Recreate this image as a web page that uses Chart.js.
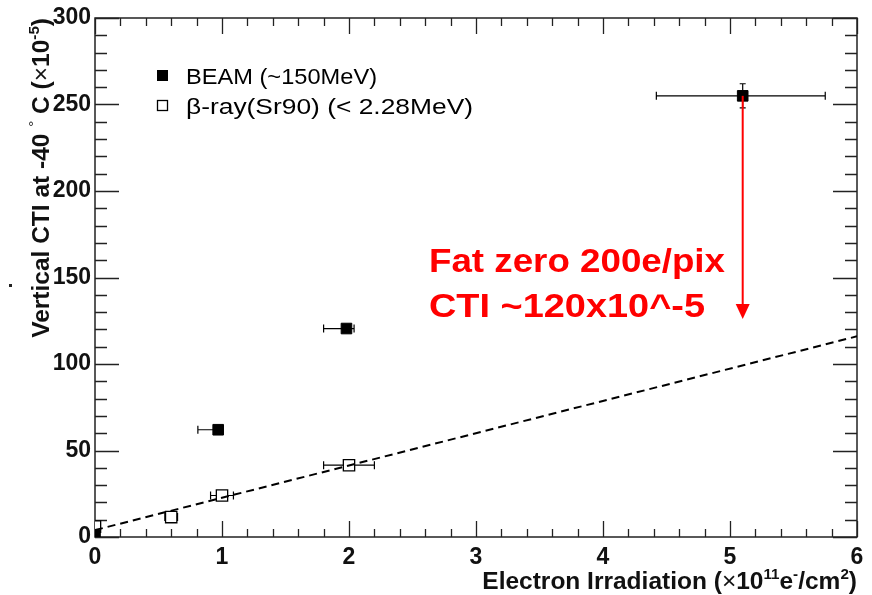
<!DOCTYPE html>
<html>
<head>
<meta charset="utf-8">
<script src="https://cdn.jsdelivr.net/npm/chart.js@4/dist/chart.umd.min.js"></script>
<style>
  html, body { margin: 0; padding: 0; background: #fff; }
  #wrap { width: 872px; height: 595px; position: relative; }
</style>
</head>
<body>
<div id="wrap"><canvas id="ctiChart"></canvas></div>
<script>
// Vertical CTI vs electron irradiation
const beamX = [0, 0.97, 1.98, 5.1];
const beamY = [1, 62, 120.5, 255];
const beamXErrLo = [0, 0.16, 0.18, 0.68];
const beamXErrHi = [0, 0, 0.06, 0.65];
const beamYErr = [0, 0, 0, 7];

const betaX = [0, 0.6, 1.0, 2.0];
const betaY = [6, 11.5, 24, 41.5];
const betaXErr = [0, 0.05, 0.09, 0.2];

const fitX = [0, 6];
const fitY = [4, 116];

// fat zero annotation: arrow from the beam point down to the reduced CTI
const arrowX = 5.1;
const arrowFrom = 255;
const arrowTo = 126;
const noteLines = ["Fat zero 200e/pix", "CTI ~120x10^-5"];

const xTicks = [0, 1, 2, 3, 4, 5, 6];
const yTicks = [0, 50, 100, 150, 200, 250, 300];

const legendItems = [
  { label: "BEAM (~150MeV)", filled: true },
  { label: "\u03B2-ray(Sr90) (< 2.28MeV)", filled: false }
];

const FONT = "'Liberation Sans', Arial, sans-serif";

function toPts(xs, ys) {
  return xs.map((x, i) => ({ x: x, y: ys[i] }));
}

// text squeezed or widened to a given width (the original fonts run wide)
function fillWide(ctx, text, x, y, width) {
  const w = ctx.measureText(text).width;
  ctx.save();
  ctx.translate(x, y);
  ctx.scale(width / w, 1);
  ctx.fillText(text, 0, 0);
  ctx.restore();
}

// draw text made of pieces, some raised as superscripts
function richWidth(ctx, parts, size) {
  let w = 0;
  parts.forEach(p => {
    ctx.font = (p.bold === false ? "" : "bold ") + (p.sup ? size * 0.62 : size) + "px " + FONT;
    w += ctx.measureText(p.t).width;
  });
  return w;
}
function drawRich(ctx, parts, x, y, size) {
  let cx = x;
  parts.forEach(p => {
    const s = p.sup ? size * 0.62 : size;
    ctx.font = (p.bold === false ? "" : "bold ") + s + "px " + FONT;
    ctx.fillText(p.t, cx, p.sup ? y - size * 0.42 : y);
    cx += ctx.measureText(p.t).width;
  });
}

const rootStyle = {
  id: "rootStyle",
  beforeDatasetsDraw(chart) {
    const ctx = chart.ctx;
    const xs = chart.scales.x, ys = chart.scales.y;
    const a = chart.chartArea;
    ctx.save();
    ctx.strokeStyle = "#222";
    ctx.lineWidth = 1.5;
    ctx.strokeRect(a.left, a.top, a.right - a.left, a.bottom - a.top);

    // tick marks inside the frame on all four sides
    ctx.lineWidth = 1.3;
    ctx.beginPath();
    for (let v = 0; v <= 300.01; v += 10) {
      const py = Math.round(ys.getPixelForValue(v)) + 0.5;
      const len = (Math.round(v) % 50 === 0) ? 24 : 12;
      ctx.moveTo(a.left, py); ctx.lineTo(a.left + len, py);
      ctx.moveTo(a.right, py); ctx.lineTo(a.right - len, py);
    }
    for (let i = 0; i <= 30; i++) {
      const v = i * 0.2;
      const px = Math.round(xs.getPixelForValue(v)) + 0.5;
      const len = (i % 5 === 0) ? 16 : 8;
      ctx.moveTo(px, a.bottom); ctx.lineTo(px, a.bottom - len);
      ctx.moveTo(px, a.top); ctx.lineTo(px, a.top + len);
    }
    ctx.stroke();

    // horizontal / vertical error bars with end caps
    ctx.strokeStyle = "#000";
    ctx.lineWidth = 1.2;
    const bars = (xv, yv, lo, hi, ye) => {
      xv.forEach((x, i) => {
        const py = ys.getPixelForValue(yv[i]);
        const l = lo[i], h = hi[i];
        if (l > 0 || h > 0) {
          const x1 = xs.getPixelForValue(x - l), x2 = xs.getPixelForValue(x + h);
          ctx.beginPath();
          ctx.moveTo(x1, py); ctx.lineTo(x2, py);
          if (l > 0) { ctx.moveTo(x1, py - 4); ctx.lineTo(x1, py + 4); }
          if (h > 0) { ctx.moveTo(x2, py - 4); ctx.lineTo(x2, py + 4); }
          ctx.stroke();
        }
        if (ye && ye[i] > 0) {
          const px = xs.getPixelForValue(x);
          const y1 = ys.getPixelForValue(yv[i] - ye[i]), y2 = ys.getPixelForValue(yv[i] + ye[i]);
          ctx.beginPath();
          ctx.moveTo(px, y1); ctx.lineTo(px, y2);
          ctx.moveTo(px - 3, y1); ctx.lineTo(px + 3, y1);
          ctx.moveTo(px - 3, y2); ctx.lineTo(px + 3, y2);
          ctx.stroke();
        }
      });
    };
    bars(beamX, beamY, beamXErrLo, beamXErrHi, beamYErr);
    bars(betaX, betaY, betaXErr, betaXErr, null);
    ctx.restore();
  },
  afterDatasetsDraw(chart) {
    const ctx = chart.ctx;
    const xs = chart.scales.x, ys = chart.scales.y;
    ctx.save();

    // red arrow and note
    const ax = xs.getPixelForValue(arrowX);
    const ay1 = ys.getPixelForValue(arrowFrom);
    const ay2 = ys.getPixelForValue(arrowTo);
    ctx.strokeStyle = "#f00";
    ctx.fillStyle = "#f00";
    ctx.lineWidth = 2;
    ctx.beginPath();
    ctx.moveTo(ax, ay1); ctx.lineTo(ax, ay2 - 14);
    ctx.stroke();
    ctx.beginPath();
    ctx.moveTo(ax - 7, ay2 - 15); ctx.lineTo(ax + 7, ay2 - 15); ctx.lineTo(ax, ay2);
    ctx.closePath();
    ctx.fill();

    ctx.font = "bold 34px " + FONT;
    ctx.textBaseline = "alphabetic";
    ctx.textAlign = "left";
    fillWide(ctx, noteLines[0], 429, 272, 296);
    fillWide(ctx, noteLines[1], 429, 317, 276);

    // legend
    ctx.fillStyle = "#000";
    ctx.font = "22px " + FONT;
    const legendWidths = [191, 287];
    legendItems.forEach((it, i) => {
      const cy = 75 + i * 30;
      if (it.filled) {
        ctx.fillRect(157, cy - 5, 11, 11);
      } else {
        ctx.lineWidth = 1.3;
        ctx.strokeStyle = "#000";
        ctx.strokeRect(157.5, cy - 4.5, 10, 10);
      }
      fillWide(ctx, it.label, 186, cy + 9, legendWidths[i]);
    });

    // axis titles
    ctx.fillStyle = "#111";
    const xParts = [
      { t: "Electron Irradiation (" }, { t: "\u00D7", bold: false }, { t: "10" },
      { t: "11", sup: true }, { t: "e" }, { t: "-", sup: true }, { t: "/cm" },
      { t: "2", sup: true }, { t: ")" }
    ];
    const xw = richWidth(ctx, xParts, 24.5);
    drawRich(ctx, xParts, 857 - xw, 589, 24.5);

    const yParts = [
      { t: "Vertical CTI at -40 " }, { t: "\u00B0", sup: true, bold: false }, { t: " C (" },
      { t: "\u00D7", bold: false }, { t: "10" }, { t: "-5", sup: true }, { t: ")" }
    ];
    const yw = richWidth(ctx, yParts, 24.5);
    ctx.translate(49, 18);
    ctx.rotate(-Math.PI / 2);
    drawRich(ctx, yParts, -yw, 0, 24.5);
    ctx.restore();

    ctx.save();
    ctx.fillStyle = "#222";
    ctx.fillRect(9, 284, 3, 3);
    ctx.restore();
  }
};

new Chart(document.getElementById("ctiChart"), {
  type: "scatter",
  data: {
    datasets: [
      {
        label: "fit",
        type: "line",
        data: toPts(fitX, fitY),
        borderColor: "#000",
        borderWidth: 2,
        borderDash: [8, 5],
        pointRadius: 0,
        fill: false
      },
      {
        label: "BEAM",
        data: toPts(beamX, beamY),
        pointStyle: "rect",
        pointRadius: 7.5,
        backgroundColor: "#000",
        borderColor: "#000",
        borderWidth: 1
      },
      {
        label: "beta",
        data: toPts(betaX, betaY),
        pointStyle: "rect",
        pointRadius: 8,
        backgroundColor: "#fff",
        borderColor: "#000",
        borderWidth: 1.3
      }
    ]
  },
  options: {
    responsive: true,
    maintainAspectRatio: false,
    animation: false,
    events: [],
    layout: { padding: { left: 0, top: 18, right: 15, bottom: 0 } },
    plugins: { legend: { display: false }, tooltip: { enabled: false } },
    scales: {
      x: {
        type: "linear",
        min: 0, max: 6,
        grid: { display: false, drawTicks: false },
        border: { display: false },
        afterFit: s => { s.height = 58; },
        afterBuildTicks: s => { s.ticks = xTicks.map(v => ({ value: v })); },
        ticks: {
          padding: 7,
          color: "#111",
          maxRotation: 0,
          font: { family: FONT, size: 23, weight: "bold" }
        }
      },
      y: {
        type: "linear",
        min: 0, max: 300,
        grid: { display: false, drawTicks: false },
        border: { display: false },
        afterFit: s => { s.width = 95; },
        afterBuildTicks: s => { s.ticks = yTicks.map(v => ({ value: v })); },
        ticks: {
          padding: 4,
          color: "#111",
          font: { family: FONT, size: 23, weight: "bold" }
        }
      }
    }
  },
  plugins: [rootStyle]
});
</script>
</body>
</html>
